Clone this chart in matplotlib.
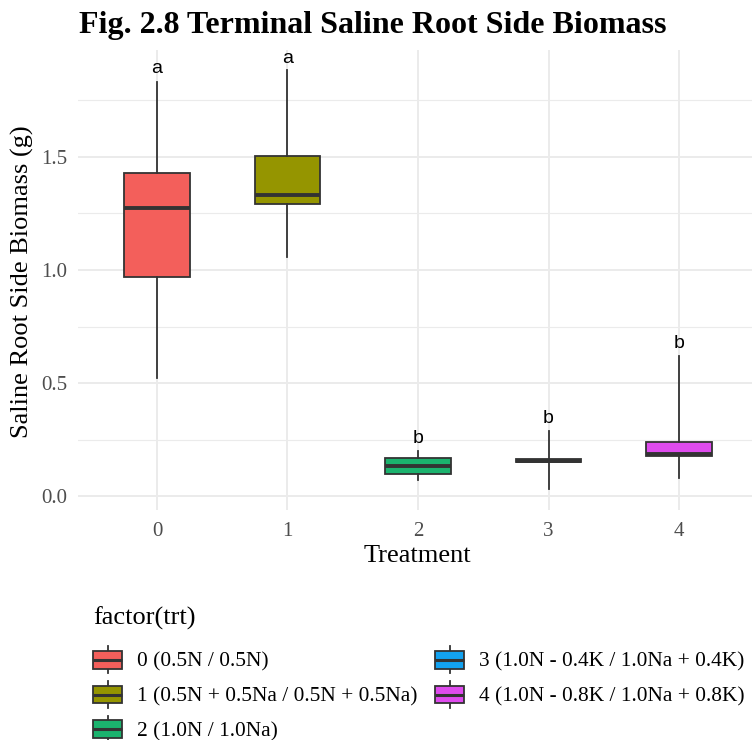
import matplotlib
matplotlib.use("Agg")
import matplotlib.pyplot as plt
from matplotlib.patches import Patch, Rectangle
from matplotlib.lines import Line2D
from matplotlib.legend_handler import HandlerBase

# ---- data ----
treatments = ["0", "1", "2", "3", "4"]
legend_labels = ["0 (0.5N / 0.5N)", "1 (0.5N + 0.5Na / 0.5N + 0.5Na)", "2 (1.0N / 1.0Na)",
                 "3 (1.0N - 0.4K / 1.0Na + 0.4K)", "4 (1.0N - 0.8K / 1.0Na + 0.8K)"]
whis_low = [0.523, 1.057, 0.073, 0.033, 0.082]
q1 = [0.969, 1.291, 0.099, 0.150, 0.179]
median = [1.274, 1.331, 0.135, 0.156, 0.187]
q3 = [1.428, 1.503, 0.170, 0.163, 0.241]
whis_high = [1.830, 1.883, 0.201, 0.289, 0.620]
letters = ["a", "a", "b", "b", "b"]
letter_y = [1.869, 1.914, 0.236, 0.324, 0.656]
colors = ["#F35F5B", "#959500", "#1BB36E", "#12A2F0", "#DF4BEE"]
yticks = [0.0, 0.5, 1.0, 1.5]
yticklabels = ["0.0", "0.5", "1.0", "1.5"]

SERIF = ["Liberation Serif", "DejaVu Serif"]
SANS = ["Liberation Sans", "DejaVu Sans"]
EDGE = "#333333"

W, H = 752, 740
fig = plt.figure(figsize=(W / 100, H / 100), dpi=100)
fig.patch.set_facecolor("white")

px_l, px_r, px_t, px_b = 78, 752, 50, 510
ax = fig.add_axes([px_l / W, 1 - px_b / H, (px_r - px_l) / W, (px_b - px_t) / H])
ax.set_facecolor("white")

positions = list(range(len(treatments)))
stats = []
for i in positions:
    stats.append(dict(med=median[i], q1=q1[i], q3=q3[i], whislo=whis_low[i],
                      whishi=whis_high[i], fliers=[], label=treatments[i]))
bp = ax.bxp(stats, positions=positions, widths=0.5, patch_artist=True, showcaps=False,
            showfliers=False, zorder=3,
            boxprops=dict(edgecolor=EDGE, linewidth=1.3),
            whiskerprops=dict(color=EDGE, linewidth=1.3),
            medianprops=dict(color=EDGE, linewidth=2.8, solid_capstyle="butt"))
for patch, c in zip(bp["boxes"], colors):
    patch.set_facecolor(c)

for i, (t, yv) in enumerate(zip(letters, letter_y)):
    ax.text(positions[i], yv, t, ha="center", va="baseline", fontsize=14,
            family=SANS, color="black", zorder=4)

ax.set_xlim(-0.605, 4.559)
ax.set_ylim(-0.060, 1.971)
ax.set_xticks(positions)
ax.set_xticklabels(treatments, family=SERIF, fontsize=15, color="#4D4D4D")
ax.set_yticks(yticks)
ax.set_yticklabels(yticklabels, family=SERIF, fontsize=15, color="#4D4D4D")
ax.set_yticks([0.25, 0.75, 1.25, 1.75], minor=True)
ax.tick_params(axis="both", which="both", length=0)
ax.tick_params(axis="x", pad=9)
ax.tick_params(axis="y", pad=8)
ax.grid(True, which="major", color="#EBEBEB", linewidth=1.4, zorder=0)
ax.grid(True, which="minor", axis="y", color="#EBEBEB", linewidth=0.8, zorder=0)
ax.set_axisbelow(True)
for s in ax.spines.values():
    s.set_visible(False)

fig.text(79 / W, 1 - 33 / H, "Fig. 2.8 Terminal Saline Root Side Biomass", family=SERIF,
         fontsize=23, fontweight="bold", ha="left", va="baseline")
fig.text(22 / W, 1 - 282 / H, "Saline Root Side Biomass (g)", family=SERIF, fontsize=19,
         rotation=90, ha="center", va="center")
fig.text(417 / W, 1 - 556 / H, "Treatment", family=SERIF, fontsize=19, ha="center", va="center")


class BoxKeyHandler(HandlerBase):
    def create_artists(self, legend, orig_handle, xdescent, ydescent, width, height,
                       fontsize, trans):
        x0, y0 = -xdescent, -ydescent
        fc = orig_handle.get_facecolor()
        rect = Rectangle((x0, y0 + height * 0.17), width, height * 0.66, facecolor=fc,
                         edgecolor=EDGE, linewidth=1.3, transform=trans)
        med = Line2D([x0, x0 + width], [y0 + height / 2] * 2, color=EDGE, linewidth=2.2,
                     transform=trans, solid_capstyle="butt")
        wt = Line2D([x0 + width / 2] * 2, [y0 + height * 0.83, y0 + height], color=EDGE,
                    linewidth=1.3, transform=trans)
        wb = Line2D([x0 + width / 2] * 2, [y0, y0 + height * 0.17], color=EDGE,
                    linewidth=1.3, transform=trans)
        return [wt, wb, rect, med]


handles = [Patch(facecolor=c) for c in colors]
leg = fig.legend(handles, legend_labels, handler_map={Patch: BoxKeyHandler()},
                 loc="upper left", bbox_to_anchor=(93 / W, 1 - 607 / H), ncol=2,
                 frameon=False, borderpad=0, borderaxespad=0,
                 prop=dict(family=SERIF, size=15.4), title="factor(trt)",
                 title_fontproperties=dict(family=SERIF, size=19), alignment="left",
                 handlelength=1.37, handleheight=1.565, handletextpad=0.7,
                 columnspacing=0.8, labelspacing=0.36)
leg._legend_box.sep = 11.5

fig.savefig("out.png", dpi=100, facecolor="white")
